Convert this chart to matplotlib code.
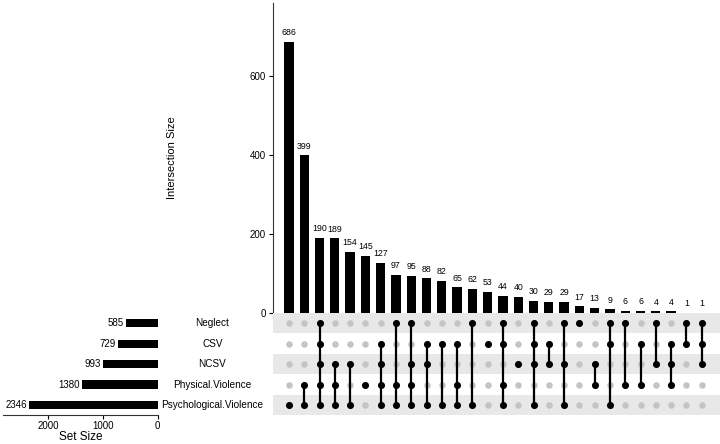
import matplotlib
matplotlib.use("Agg")
import matplotlib.pyplot as plt

plt.rcParams['font.family'] = ['Liberation Sans', 'DejaVu Sans']

# sets, top to bottom in the matrix
set_names = ['Neglect', 'CSV', 'NCSV', 'Physical.Violence', 'Psychological.Violence']
set_sizes = [585, 729, 993, 1380, 2346]

# intersections (sorted by size)
inter_sizes = [686, 399, 190, 189, 154, 145, 127, 97, 95, 88, 82, 65, 62, 53,
               44, 40, 30, 29, 29, 17, 13, 9, 6, 6, 4, 4, 1, 1]
inter_sets = [
    ['Psychological.Violence'],
    ['Physical.Violence', 'Psychological.Violence'],
    ['Neglect', 'CSV', 'NCSV', 'Physical.Violence', 'Psychological.Violence'],
    ['NCSV', 'Physical.Violence', 'Psychological.Violence'],
    ['NCSV', 'Psychological.Violence'],
    ['Physical.Violence'],
    ['CSV', 'NCSV', 'Physical.Violence', 'Psychological.Violence'],
    ['Neglect', 'Physical.Violence', 'Psychological.Violence'],
    ['Neglect', 'NCSV', 'Physical.Violence', 'Psychological.Violence'],
    ['CSV', 'NCSV', 'Psychological.Violence'],
    ['CSV', 'Psychological.Violence'],
    ['CSV', 'Physical.Violence', 'Psychological.Violence'],
    ['Neglect', 'Psychological.Violence'],
    ['CSV'],
    ['Neglect', 'CSV', 'Physical.Violence', 'Psychological.Violence'],
    ['NCSV'],
    ['Neglect', 'CSV', 'NCSV', 'Psychological.Violence'],
    ['CSV', 'NCSV'],
    ['Neglect', 'NCSV', 'Psychological.Violence'],
    ['Neglect'],
    ['NCSV', 'Physical.Violence'],
    ['Neglect', 'CSV', 'Psychological.Violence'],
    ['Neglect', 'Physical.Violence'],
    ['CSV', 'Physical.Violence'],
    ['Neglect', 'NCSV'],
    ['CSV', 'NCSV', 'Physical.Violence'],
    ['Neglect', 'CSV'],
    ['Neglect', 'CSV', 'NCSV'],
]

n_sets = len(set_names)
n_cols = len(inter_sizes)
row_y = {name: n_sets - 1 - i for i, name in enumerate(set_names)}
xlim = (-1.05, n_cols + 0.2)

fig = plt.figure(figsize=(7.2, 4.44), dpi=100)
ax_bar = fig.add_axes([0.379, 0.295, 0.621, 0.698])
ax_mat = fig.add_axes([0.379, 0.065, 0.621, 0.230])
ax_set = fig.add_axes([0.004, 0.065, 0.215, 0.230])

# --- intersection size bars ---
xs = list(range(n_cols))
ax_bar.bar(xs, inter_sizes, width=0.6, color='black')
for x, v in zip(xs, inter_sizes):
    ax_bar.text(x, v + 12, str(v), ha='center', va='bottom', fontsize=6.3)
ax_bar.set_xlim(*xlim)
ax_bar.set_ylim(0, 785)
ax_bar.set_yticks([0, 200, 400, 600])
ax_bar.set_xticks([])
ax_bar.spines['top'].set_visible(False)
ax_bar.spines['right'].set_visible(False)
ax_bar.spines['left'].set_color('#333333')
ax_bar.spines['bottom'].set_color('#999999')
ax_bar.spines['bottom'].set_linewidth(0.6)
ax_bar.tick_params(axis='y', labelsize=7, length=3, width=0.8, pad=2)
ax_bar.set_ylabel('Intersection Size', fontsize=8, labelpad=52)

# --- matrix ---
for i, name in enumerate(set_names):
    y = row_y[name]
    if i % 2 == 0:
        ax_mat.axhspan(y - 0.5, y + 0.5, color='#e8e8e8', lw=0, zorder=0)
for x, members in enumerate(inter_sets):
    ys_on = [row_y[m] for m in members]
    ys_off = [row_y[n] for n in set_names if n not in members]
    ax_mat.scatter([x] * len(ys_off), ys_off, s=22, color='#c4c4c4', lw=0, zorder=1)
    if len(ys_on) > 1:
        ax_mat.plot([x, x], [min(ys_on), max(ys_on)], color='black', lw=1.6, zorder=2)
    ax_mat.scatter([x] * len(ys_on), ys_on, s=26, color='black', lw=0, zorder=3)
ax_mat.set_xlim(*xlim)
ax_mat.set_ylim(-0.5, n_sets - 0.5)
ax_mat.axis('off')

# set names between the two panels
for name in set_names:
    ax_mat.text(-5.0, row_y[name], name, ha='center', va='center', fontsize=7.2, clip_on=False)

# --- set size bars ---
ys = [row_y[n] for n in set_names]
ax_set.barh(ys, set_sizes, height=0.4, color='black')
for y, v in zip(ys, set_sizes):
    ax_set.text(v + 40, y, str(v), ha='right', va='center', fontsize=7)
ax_set.set_xlim(2820, 0)
ax_set.set_ylim(-0.5, n_sets - 0.5)
ax_set.set_xticks([2000, 1000, 0])
ax_set.set_yticks([])
for s in ['top', 'right', 'left']:
    ax_set.spines[s].set_visible(False)
ax_set.spines['bottom'].set_color('#333333')
ax_set.tick_params(axis='x', labelsize=7, length=3, width=0.8, pad=1.5)
ax_set.set_xlabel('Set Size', fontsize=8.5, labelpad=0)

fig.savefig('out.png', dpi=100)
